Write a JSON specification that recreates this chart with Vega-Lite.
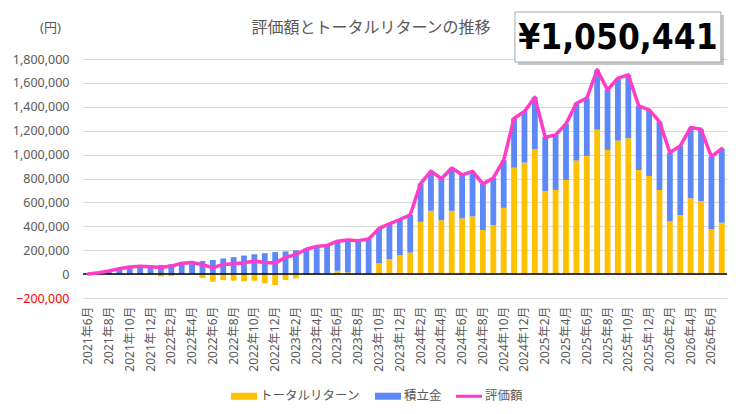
{
  "$schema": "https://vega.github.io/schema/vega-lite/v6.json",
  "width": 644,
  "height": 239,
  "autosize": {"type": "none"},
  "padding": {"left": 83, "top": 59, "right": 16, "bottom": 116},
  "background": "white",
  "config": {
    "view": {"stroke": null},
    "font": "Noto Sans, Noto Sans CJK JP"
  },
  "title": {
    "text": "評価額とトータルリターンの推移",
    "fontSize": 16,
    "fontWeight": "normal",
    "color": "#595959",
    "anchor": "middle",
    "frame": "group",
    "dx": -34,
    "dy": 48,
    "offset": 22
  },
  "data": {
    "values": [
      {"月":"2021年6月","トータルリターン":0,"積立金":0,"評価額":0},
      {"月":"2021年7月","トータルリターン":0,"積立金":11000,"評価額":11000},
      {"月":"2021年8月","トータルリターン":1000,"積立金":26000,"評価額":27000},
      {"月":"2021年9月","トータルリターン":2000,"積立金":42000,"評価額":44000},
      {"月":"2021年10月","トータルリターン":2000,"積立金":57000,"評価額":59000},
      {"月":"2021年11月","トータルリターン":-2000,"積立金":68000,"評価額":66000},
      {"月":"2021年12月","トータルリターン":-4000,"積立金":65000,"評価額":61000},
      {"月":"2022年1月","トータルリターン":-20000,"積立金":76000,"評価額":56000},
      {"月":"2022年2月","トータルリターン":-15000,"積立金":82000,"評価額":67000},
      {"月":"2022年3月","トータルリターン":0,"積立金":91000,"評価額":91000},
      {"月":"2022年4月","トータルリターン":-3000,"積立金":100000,"評価額":97000},
      {"月":"2022年5月","トータルリターン":-32000,"積立金":110000,"評価額":78000},
      {"月":"2022年6月","トータルリターン":-64000,"積立金":118000,"評価額":54000},
      {"月":"2022年7月","トータルリターン":-50000,"積立金":131000,"評価額":81000},
      {"月":"2022年8月","トータルリターン":-55000,"積立金":142000,"評価額":87000},
      {"月":"2022年9月","トータルリターン":-60000,"積立金":155000,"評価額":95000},
      {"月":"2022年10月","トータルリターン":-56000,"積立金":166000,"評価額":110000},
      {"月":"2022年11月","トータルリターン":-78000,"積立金":175000,"評価額":97000},
      {"月":"2022年12月","トータルリターン":-92000,"積立金":184000,"評価額":92000},
      {"月":"2023年1月","トータルリターン":-50000,"積立金":190000,"評価額":140000},
      {"月":"2023年2月","トータルリターン":-36000,"積立金":200000,"評価額":164000},
      {"月":"2023年3月","トータルリターン":-8000,"積立金":216000,"評価額":208000},
      {"月":"2023年4月","トータルリターン":4000,"積立金":228000,"評価額":232000},
      {"月":"2023年5月","トータルリターン":8000,"積立金":232000,"評価額":240000},
      {"月":"2023年6月","トータルリターン":27000,"積立金":248000,"評価額":275000},
      {"月":"2023年7月","トータルリターン":15000,"積立金":270000,"評価額":285000},
      {"月":"2023年8月","トータルリターン":2000,"積立金":278000,"評価額":280000},
      {"月":"2023年9月","トータルリターン":5000,"積立金":289000,"評価額":294000},
      {"月":"2023年10月","トータルリターン":90000,"積立金":292000,"評価額":382000},
      {"月":"2023年11月","トータルリターン":126000,"積立金":294000,"評価額":420000},
      {"月":"2023年12月","トータルリターン":158000,"積立金":299000,"評価額":457000},
      {"月":"2024年1月","トータルリターン":180000,"積立金":315000,"評価額":495000},
      {"月":"2024年2月","トータルリターン":437000,"積立金":320000,"評価額":757000},
      {"月":"2024年3月","トータルリターン":530000,"積立金":332000,"評価額":862000},
      {"月":"2024年4月","トータルリターン":451000,"積立金":347000,"評価額":798000},
      {"月":"2024年5月","トータルリターン":530000,"積立金":358000,"評価額":888000},
      {"月":"2024年6月","トータルリターン":466000,"積立金":365000,"評価額":831000},
      {"月":"2024年7月","トータルリターン":483000,"積立金":377000,"評価額":860000},
      {"月":"2024年8月","トータルリターン":368000,"積立金":387000,"評価額":755000},
      {"月":"2024年9月","トータルリターン":408000,"積立金":397000,"評価額":805000},
      {"月":"2024年10月","トータルリターン":554000,"積立金":399000,"評価額":953000},
      {"月":"2024年11月","トータルリターン":890000,"積立金":414000,"評価額":1304000},
      {"月":"2024年12月","トータルリターン":933000,"積立金":427000,"評価額":1360000},
      {"月":"2025年1月","トータルリターン":1047000,"積立金":433000,"評価額":1480000},
      {"月":"2025年2月","トータルリターン":693000,"積立金":452000,"評価額":1145000},
      {"月":"2025年3月","トータルリターン":704000,"積立金":461000,"評価額":1165000},
      {"月":"2025年4月","トータルリターン":788000,"積立金":469000,"評価額":1257000},
      {"月":"2025年5月","トータルリターン":950000,"積立金":480000,"評価額":1430000},
      {"月":"2025年6月","トータルリターン":989000,"積立金":483000,"評価額":1472000},
      {"月":"2025年7月","トータルリターン":1207000,"積立金":502000,"評価額":1709000},
      {"月":"2025年8月","トータルリターン":1039000,"積立金":503000,"評価額":1542000},
      {"月":"2025年9月","トータルリターン":1117000,"積立金":523000,"評価額":1640000},
      {"月":"2025年10月","トータルリターン":1137000,"積立金":530000,"評価額":1667000},
      {"月":"2025年11月","トータルリターン":871000,"積立金":537000,"評価額":1408000},
      {"月":"2025年12月","トータルリターン":821000,"積立金":553000,"評価額":1374000},
      {"月":"2026年1月","トータルリターン":704000,"積立金":572000,"評価額":1276000},
      {"月":"2026年2月","トータルリターン":444000,"積立金":573000,"評価額":1017000},
      {"月":"2026年3月","トータルリターン":494000,"積立金":579000,"評価額":1073000},
      {"月":"2026年4月","トータルリターン":634000,"積立金":592000,"評価額":1226000},
      {"月":"2026年5月","トータルリターン":612000,"積立金":600000,"評価額":1212000},
      {"月":"2026年6月","トータルリターン":374000,"積立金":609000,"評価額":983000},
      {"月":"2026年7月","トータルリターン":430000,"積立金":620441,"評価額":1050441}
    ]
  },
  "layer": [
    {
      "transform": [{"fold": ["トータルリターン", "積立金"], "as": ["系列", "金額"]}],
      "mark": {"type": "bar"},
      "encoding": {
        "x": {
          "field": "月",
          "type": "ordinal",
          "scale": {
            "domain": ["2021年6月","2021年7月","2021年8月","2021年9月","2021年10月","2021年11月","2021年12月","2022年1月","2022年2月","2022年3月","2022年4月","2022年5月","2022年6月","2022年7月","2022年8月","2022年9月","2022年10月","2022年11月","2022年12月","2023年1月","2023年2月","2023年3月","2023年4月","2023年5月","2023年6月","2023年7月","2023年8月","2023年9月","2023年10月","2023年11月","2023年12月","2024年1月","2024年2月","2024年3月","2024年4月","2024年5月","2024年6月","2024年7月","2024年8月","2024年9月","2024年10月","2024年11月","2024年12月","2025年1月","2025年2月","2025年3月","2025年4月","2025年5月","2025年6月","2025年7月","2025年8月","2025年9月","2025年10月","2025年11月","2025年12月","2026年1月","2026年2月","2026年3月","2026年4月","2026年5月","2026年6月","2026年7月"],
            "paddingInner": 0.44,
            "paddingOuter": 0.22
          },
          "axis": {
            "values": ["2021年6月","2021年8月","2021年10月","2021年12月","2022年2月","2022年4月","2022年6月","2022年8月","2022年10月","2022年12月","2023年2月","2023年4月","2023年6月","2023年8月","2023年10月","2023年12月","2024年2月","2024年4月","2024年6月","2024年8月","2024年10月","2024年12月","2025年2月","2025年4月","2025年6月","2025年8月","2025年10月","2025年12月","2026年2月","2026年4月","2026年6月"],
            "title": null,
            "labelAngle": -90,
            "labelFontSize": 12,
            "labelColor": "#595959",
            "labelPadding": 8,
            "ticks": false,
            "domain": false,
            "grid": false
          }
        },
        "y": {
          "field": "金額",
          "type": "quantitative",
          "stack": "zero",
          "scale": {"domain": [-200000, 1800000], "nice": false, "zero": false},
          "axis": {
            "values": [-200000, 0, 200000, 400000, 600000, 800000, 1000000, 1200000, 1400000, 1600000, 1800000],
            "labelExpr": "format(datum.value, ',')",
            "labelOverlap": false,
            "title": "(円)",
            "titleAngle": 0,
            "titleX": -33,
            "titleY": -32,
            "titleAlign": "center",
            "titleBaseline": "middle",
            "titleFontWeight": "normal",
            "titleFontSize": 13,
            "titleColor": "#595959",
            "labelFontSize": 12.5,
            "labelColor": {"condition": {"test": "datum.value < 0", "value": "#FF0000"}, "value": "#595959"},
            "labelPadding": 14,
            "ticks": false,
            "domain": false,
            "gridColor": "#d9d9d9",
            "gridWidth": 1
          }
        },
        "order": {"field": "系列", "sort": "ascending"},
        "color": {
          "field": "系列",
          "type": "nominal",
          "scale": {
            "domain": ["トータルリターン", "積立金", "評価額"],
            "range": ["#FFC000", "#5D88F8", "#FF3CC7"]
          },
          "legend": {
            "orient": "none",
            "legendX": 148,
            "legendY": 324,
            "direction": "horizontal",
            "title": null,
            "labelFontSize": 12.5,
            "labelColor": "#595959",
            "symbolType": "M-1,-0.27H1V0.27H-1Z",
            "symbolSize": 676,
            "symbolStrokeWidth": 0,
            "symbolOpacity": 1,
            "columnPadding": 14,
            "labelOffset": 3,
            "encode": {
              "symbols": {
                "update": {
                  "shape": {"signal": "datum.label === '評価額' ? 'M-1,-0.12H1V0.12H-1Z' : 'M-1,-0.27H1V0.27H-1Z'"},
                  "fill": {"scale": "color", "field": "value"},
                  "strokeWidth": {"value": 0}
                }
              }
            }
          }
        }
      }
    },
    {
      "data": {"values": [{}]},
      "mark": {"type": "rule", "color": "#000000", "strokeWidth": 1.5},
      "encoding": {
        "y": {
          "datum": 0,
          "type": "quantitative",
          "axis": {
            "values": [-200000, 0, 200000, 400000, 600000, 800000, 1000000, 1200000, 1400000, 1600000, 1800000],
            "labelExpr": "format(datum.value, ',')",
            "labelOverlap": false,
            "title": "(円)",
            "titleAngle": 0,
            "titleX": -33,
            "titleY": -32,
            "titleAlign": "center",
            "titleBaseline": "middle",
            "titleFontWeight": "normal",
            "titleFontSize": 13,
            "titleColor": "#595959",
            "labelFontSize": 12.5,
            "labelColor": {"condition": {"test": "datum.value < 0", "value": "#FF0000"}, "value": "#595959"},
            "labelPadding": 14,
            "ticks": false,
            "domain": false,
            "gridColor": "#d9d9d9",
            "gridWidth": 1
          }
        }
      }
    },
    {
      "mark": {"type": "line", "strokeWidth": 3.5, "strokeJoin": "round", "strokeCap": "round"},
      "encoding": {
        "x": {"field": "月", "type": "ordinal"},
        "y": {
          "field": "評価額",
          "type": "quantitative",
          "axis": {
            "values": [-200000, 0, 200000, 400000, 600000, 800000, 1000000, 1200000, 1400000, 1600000, 1800000],
            "labelExpr": "format(datum.value, ',')",
            "labelOverlap": false,
            "title": "(円)",
            "titleAngle": 0,
            "titleX": -33,
            "titleY": -32,
            "titleAlign": "center",
            "titleBaseline": "middle",
            "titleFontWeight": "normal",
            "titleFontSize": 13,
            "titleColor": "#595959",
            "labelFontSize": 12.5,
            "labelColor": {"condition": {"test": "datum.value < 0", "value": "#FF0000"}, "value": "#595959"},
            "labelPadding": 14,
            "ticks": false,
            "domain": false,
            "gridColor": "#d9d9d9",
            "gridWidth": 1
          }
        },
        "color": {"datum": "評価額"}
      }
    },
    {
      "data": {"values": [{"表示": "¥1,050,441"}]},
      "encoding": {
        "x": {"datum": "2025年9月"},
        "y": {
          "datum": 1984000,
          "type": "quantitative",
          "axis": {
            "values": [-200000, 0, 200000, 400000, 600000, 800000, 1000000, 1200000, 1400000, 1600000, 1800000],
            "labelExpr": "format(datum.value, ',')",
            "labelOverlap": false,
            "title": "(円)",
            "titleAngle": 0,
            "titleX": -33,
            "titleY": -32,
            "titleAlign": "center",
            "titleBaseline": "middle",
            "titleFontWeight": "normal",
            "titleFontSize": 13,
            "titleColor": "#595959",
            "labelFontSize": 12.5,
            "labelColor": {"condition": {"test": "datum.value < 0", "value": "#FF0000"}, "value": "#595959"},
            "labelPadding": 14,
            "ticks": false,
            "domain": false,
            "gridColor": "#d9d9d9",
            "gridWidth": 1
          }
        }
      },
      "layer": [
        {
          "mark": {"type": "point", "shape": "M-1,-0.2427H1V0.2427H-1Z", "size": 42436, "filled": true, "color": "#a0a0a0", "opacity": 0.6, "xOffset": 3, "yOffset": 3}
        },
        {
          "mark": {"type": "point", "shape": "M-1,-0.2427H1V0.2427H-1Z", "size": 42436, "filled": true, "fill": "white", "stroke": "#a6a6a6", "strokeWidth": 1, "opacity": 1}
        },
        {
          "mark": {"type": "text", "font": "DejaVu Sans Condensed, sans-serif", "fontSize": 35, "fontWeight": "bold", "color": "#000000", "baseline": "middle", "align": "center", "dy": 1},
          "encoding": {"text": {"field": "表示"}}
        }
      ]
    }
  ]
}
